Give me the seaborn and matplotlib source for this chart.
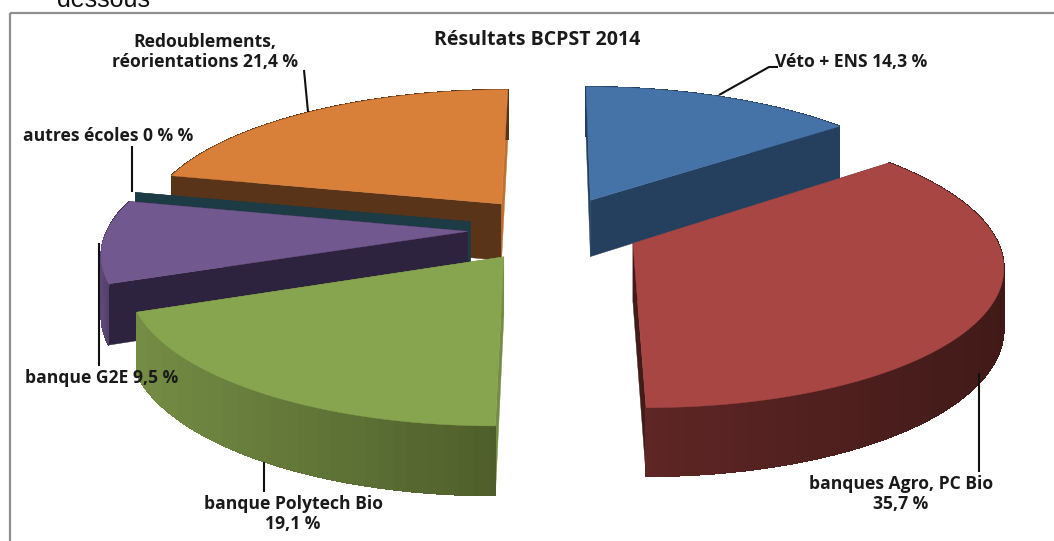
import numpy as np
import matplotlib
matplotlib.use("Agg")
import matplotlib.pyplot as plt
from matplotlib.patches import Polygon, Rectangle
import seaborn as sns

# Data
categories = ["Véto + ENS", "banques Agro, PC Bio", "banque Polytech Bio",
              "banque G2E", "autres écoles", "Redoublements, réorientations"]
shares = [14.3, 35.7, 19.1, 9.5, 0.0, 21.4]
label_texts = ["Véto + ENS 14,3 %", "banques Agro, PC Bio\n35,7 %", "banque Polytech Bio\n19,1 %",
               "banque G2E 9,5 %", "autres écoles 0 % %", "Redoublements,\nréorientations 21,4 %"]
title = "Résultats BCPST 2014"

# Style
top_colors = ["#4572A7", "#A84644", "#87A44E", "#71588F", "#4198AF", "#D8803A"]
rim_left = ["#253F5E", "#5E2625", "#748C44", "#5F4A7A", "#1C3B45", "#5A3418"]
rim_right = ["#253F5E", "#411A18", "#4E5E2B", "#2E233E", "#1C3B45", "#5A3418"]
cut_start = ["#253F5E", "#431B19", "#748C44", "#2E233E", "#1C3B45", "#5A3418"]
cut_end = ["#253F5E", "#431B19", "#748C44", "#2E233E", "#1C3B45", "#C0702F"]
draw_order = [5, 0, 4, 3, 2, 1]
label_xy = [(851, 62), (901, 494), (293, 514), (102, 378), (108, 136), (205, 52)]
leaders = [[(778, 67), (769, 67), (719, 95)], [(979, 373), (979, 472)], [(264, 462), (264, 492)],
           [(99, 243), (99, 366)], [(132, 146), (132, 192)], [(304, 70), (308, 112)]]

CX, CY, R, TILT, PERSP, DEPTH, EXPLODE = 554, 229, 360, 0.38, 0.14, 58, 0.24


def project(u, v, z=0.0):
    s = 1.0 / (1.0 + PERSP * np.asarray(v))
    return np.column_stack([CX + R * np.asarray(u) * s,
                            CY - R * TILT * np.asarray(v) * s + DEPTH * z * s])


sns.set_theme(style="white", rc={"font.family": ["Open Sans", "DejaVu Sans"]})
fig = plt.figure(figsize=(10.54, 5.41), dpi=100)
ax = fig.add_axes([0, 0, 1, 1])
ax.set_xlim(0, 1054)
ax.set_ylim(541, 0)
ax.axis("off")

ax.add_patch(Rectangle((10, 13), 1100, 600, fill=False, ec="#8f8f8f", lw=1.6))
ax.text(57, 7, "dessous", family="Liberation Sans", fontsize=18, color="#111111", va="baseline")

bounds = np.concatenate([[0], np.cumsum(shares)]) / sum(shares) * 2 * np.pi
for i in draw_order:
    a0, a1 = bounds[i], bounds[i + 1]
    mid = (a0 + a1) / 2
    ou, ov = EXPLODE * np.sin(mid), EXPLODE * np.cos(mid)
    ang = np.linspace(a0, a1, max(2, int(np.degrees(a1 - a0)) + 2))
    u, v = ou + np.sin(ang), ov + np.cos(ang)
    top = project(u, v)
    base = project(u, v, 1.0)
    apex = project([ou], [ov])
    apex_b = project([ou], [ov], 1.0)
    # radial cut faces
    for rim, rim_b, col in [(top[0], base[0], cut_start[i]), (top[-1], base[-1], cut_end[i])]:
        ax.add_patch(Polygon([apex[0], rim, rim_b, apex_b[0]], fc=col, ec=col, lw=0.3, zorder=1))
    # outer rim, shaded from the viewer's left to right
    if len(ang) > 2:
        ax.add_patch(Polygon(np.vstack([top, base[::-1]]), fc=rim_right[i], ec=rim_right[i],
                             lw=0.3, zorder=1))
        ramp = sns.blend_palette([rim_left[i], rim_right[i]], 24)
        xs = top[:, 0]
        lo, hi = xs.min(), xs.max()
        for k in range(len(ang) - 1):
            t = (0.5 * (xs[k] + xs[k + 1]) - lo) / max(hi - lo, 1)
            col = ramp[int(round(t * 23))]
            ax.add_patch(Polygon([top[k], top[k + 1], base[k + 1], base[k]],
                                 fc=col, ec=col, lw=0.5, antialiased=False, zorder=1))
    if a1 > a0:
        ax.add_patch(Polygon(np.vstack([apex, top]), fc=top_colors[i], ec=top_colors[i],
                             lw=0.3, zorder=1))

for pts in leaders:
    arr = np.array(pts)
    ax.plot(arr[:, 0], arr[:, 1], color="#111111", lw=1.5, zorder=3, solid_capstyle="butt")

for txt, (x, y) in zip(label_texts, label_xy):
    ax.text(x, y, txt, ha="center", va="center", fontsize=12.6, fontweight="bold",
            color="#1a1a1a", linespacing=1.2, zorder=4)
ax.text(537, 40, title, ha="center", va="center", fontsize=14, fontweight="bold",
        color="#1a1a1a", zorder=4)

fig.savefig("out.png", dpi=100, facecolor="white")
